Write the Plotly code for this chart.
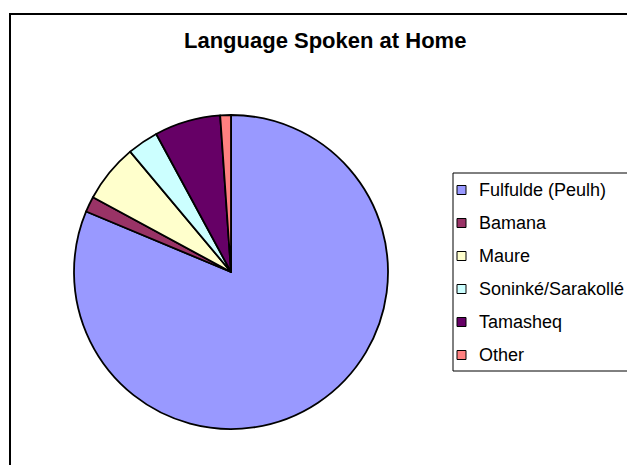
import plotly.graph_objects as go

# Share of respondents by language spoken at home (percent)
languages = ["Fulfulde (Peulh)", "Bamana", "Maure", "Soninké/Sarakollé", "Tamasheq", "Other"]
shares = [81.3, 1.6, 6.0, 3.2, 6.8, 1.1]
slice_colors = ["#9999FF", "#993366", "#FFFFCC", "#CCFFFF", "#660066", "#FF8080"]
chart_title = "Language Spoken at Home"

W, H = 627, 465
FONT = "Liberation Sans, Arial, sans-serif"


def px(x):
    return x / W


def py(y):
    return 1 - y / H


# Pie placement (pixel box that holds the circle)
cx, cy, r = 231, 272, 157

fig = go.Figure(
    go.Pie(
        labels=languages,
        values=shares,
        sort=False,
        direction="clockwise",
        rotation=0,
        marker=dict(colors=slice_colors, line=dict(color="black", width=1.8)),
        textinfo="none",
        hoverinfo="label+percent",
        showlegend=False,
        domain=dict(x=[px(cx - r), px(cx + r)], y=[py(cy + r), py(cy - r)]),
    )
)

shapes = []
annotations = []

# Outer chart frame
shapes.append(dict(type="rect", xref="paper", yref="paper",
                   x0=px(10), x1=px(W + 20), y0=py(H + 20), y1=py(14),
                   line=dict(color="black", width=2), fillcolor="rgba(0,0,0,0)"))

# Legend box
leg_left, leg_top, leg_bottom = 453, 173, 371
shapes.append(dict(type="rect", xref="paper", yref="paper",
                   x0=px(leg_left), x1=px(W + 20), y0=py(leg_bottom), y1=py(leg_top),
                   line=dict(color="black", width=1), fillcolor="white", layer="below"))

first_row, row_gap = 190, 33
for i, (name, col) in enumerate(zip(languages, slice_colors)):
    yc = first_row + i * row_gap
    shapes.append(dict(type="rect", xref="paper", yref="paper",
                       x0=px(457), x1=px(466), y0=py(yc + 4.5), y1=py(yc - 4.5),
                       line=dict(color="black", width=1), fillcolor=col))
    annotations.append(dict(text=name, xref="paper", yref="paper",
                            x=px(477), y=py(yc), xanchor="left", yanchor="middle",
                            showarrow=False, font=dict(family=FONT, size=18, color="black")))

# Title
annotations.append(dict(text="<b>" + chart_title + "</b>", xref="paper", yref="paper",
                        x=px(324.5), y=py(41), xanchor="center", yanchor="middle",
                        showarrow=False, font=dict(family=FONT, size=22, color="black")))

fig.update_layout(
    width=W, height=H,
    margin=dict(l=0, r=0, t=0, b=0),
    paper_bgcolor="white",
    plot_bgcolor="white",
    shapes=shapes,
    annotations=annotations,
)

fig.write_html("out.html", config={"displayModeBar": False})
